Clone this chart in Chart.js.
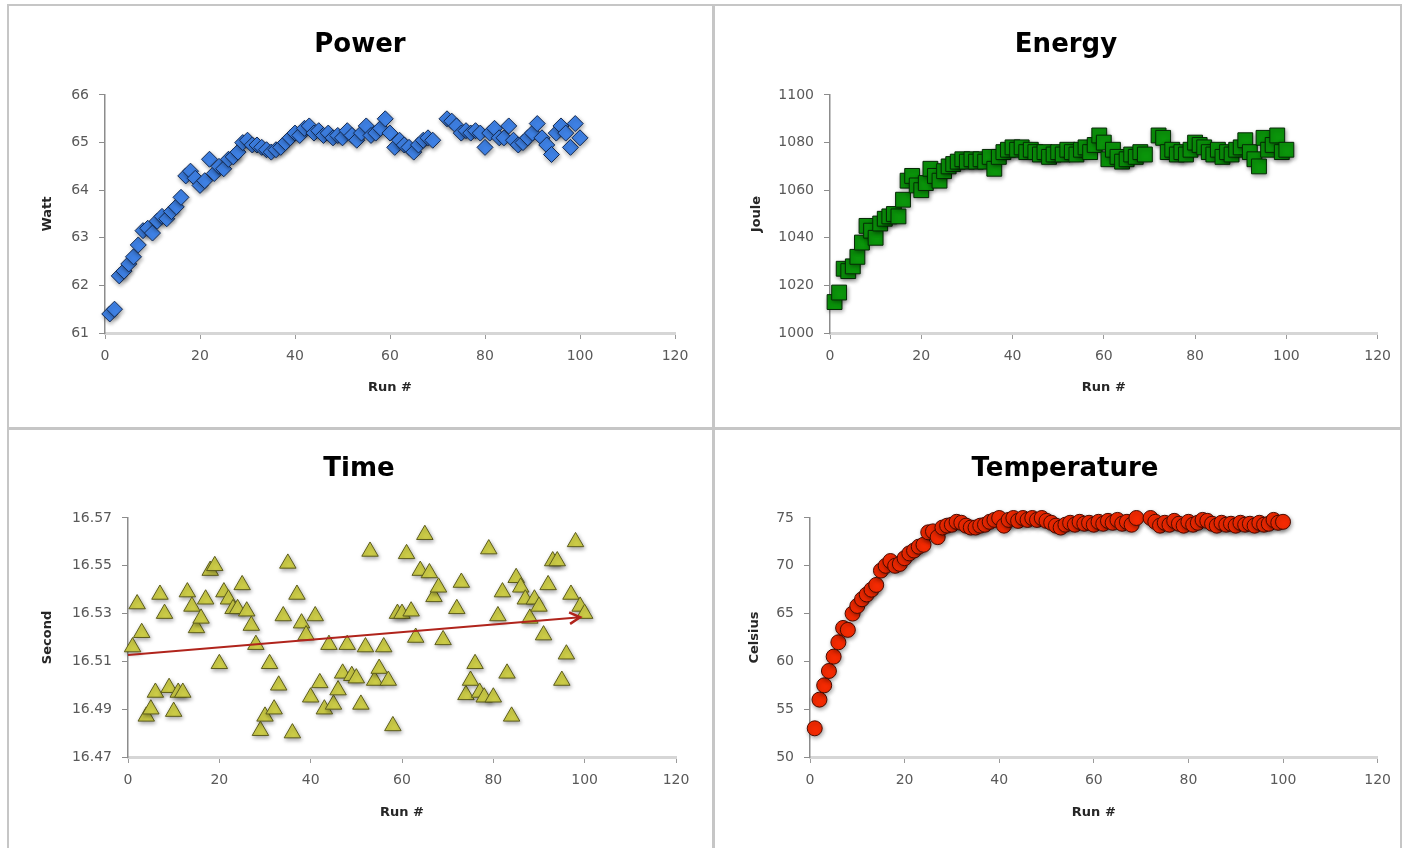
<!DOCTYPE html>
<html>
<head>
<meta charset="utf-8">
<script src="https://cdn.jsdelivr.net/npm/chart.js@4.4.1/dist/chart.umd.min.js"></script>
<style>
    body { margin: 0; background: #fff; }
    #sheet { position: relative; width: 1403px; height: 848px; overflow: hidden; background: #fff; }
    .panel { position: absolute; }
    .panel canvas { display: block; }
    .rule { position: absolute; background: #c6c6c6; }
</style>
</head>
<body>
<div id="sheet">
    <div class="panel" style="left:9px;top:6px"><canvas id="power-chart" width="703" height="421"></canvas></div>
    <div class="panel" style="left:715px;top:6px"><canvas id="energy-chart" width="685" height="421"></canvas></div>
    <div class="panel" style="left:9px;top:430px"><canvas id="time-chart" width="703" height="418"></canvas></div>
    <div class="panel" style="left:715px;top:430px"><canvas id="temp-chart" width="685" height="418"></canvas></div>

    <div class="rule" style="left:7px;top:4px;width:1395px;height:2px"></div>
    <div class="rule" style="left:7px;top:427px;width:1395px;height:3px"></div>
    <div class="rule" style="left:7px;top:4px;width:2px;height:844px"></div>
    <div class="rule" style="left:712px;top:4px;width:3px;height:844px"></div>
    <div class="rule" style="left:1400px;top:4px;width:2px;height:844px"></div>
</div>

<script>
//  Data

const runs = [
    1, 2, 3, 4, 5, 6, 7, 8, 9, 10, 11, 12, 13, 14, 15, 16, 17, 18, 19, 20,
    21, 22, 23, 24, 25, 26, 27, 28, 29, 30, 31, 32, 33, 34, 35, 36, 37, 38, 39, 40,
    41, 42, 43, 44, 45, 46, 47, 48, 49, 50, 51, 52, 53, 54, 55, 56, 57, 58, 59, 60,
    61, 62, 63, 64, 65, 66, 67, 68, 69,
    72, 73, 74, 75, 76, 77, 78, 79, 80, 81, 82, 83, 84, 85, 86, 87, 88, 89, 90,
    91, 92, 93, 94, 95, 96, 97, 98, 99, 100
]

const powerWatt = [
    61.4, 61.5, 62.2, 62.3, 62.45, 62.6, 62.85, 63.15, 63.2, 63.1,
    63.35, 63.45, 63.4, 63.55, 63.65, 63.85, 64.3, 64.4, 64.25, 64.1,
    64.2, 64.65, 64.35, 64.5, 64.45, 64.65, 64.7, 64.8, 65.0, 65.05,
    64.95, 64.95, 64.9, 64.85, 64.8, 64.85, 64.9, 65.0, 65.1, 65.2,
    65.15, 65.3, 65.35, 65.2, 65.25, 65.15, 65.2, 65.1, 65.15, 65.1,
    65.25, 65.15, 65.05, 65.2, 65.35, 65.15, 65.2, 65.3, 65.5, 65.2,
    64.9, 65.05, 64.95, 64.9, 64.8, 64.95, 65.05, 65.1, 65.05,
    65.5, 65.45, 65.35, 65.2, 65.25, 65.2, 65.25, 65.2, 64.9, 65.2,
    65.3, 65.1, 65.1, 65.35, 65.05, 64.95, 65.0, 65.1, 65.2, 65.4,
    65.1, 64.95, 64.75, 65.2, 65.35, 65.2, 64.9, 65.4, 65.1
]

const energyJoule = [
    1013, 1017, 1027, 1026, 1028, 1032, 1038, 1045, 1043, 1040,
    1046, 1048, 1049, 1050, 1049, 1056, 1064, 1066, 1062, 1060,
    1063, 1069, 1066, 1064, 1068, 1070, 1071, 1072, 1073, 1072,
    1073, 1072, 1073, 1072, 1074, 1069, 1074, 1076, 1077, 1078,
    1077, 1078, 1076, 1077, 1076, 1075, 1076, 1074, 1075, 1076,
    1075, 1077, 1076, 1075, 1077, 1078, 1076, 1079, 1083, 1080,
    1073, 1077, 1074, 1072, 1073, 1075, 1074, 1076, 1075,
    1083, 1082, 1076, 1077, 1075, 1076, 1075, 1077, 1080, 1079,
    1078, 1076, 1075, 1077, 1074, 1076, 1075, 1077, 1078, 1081,
    1076, 1073, 1070, 1082, 1077, 1079, 1083, 1076, 1077
]

const timeSecond = [
    16.516, 16.534, 16.522, 16.487, 16.490, 16.497, 16.538, 16.530, 16.499, 16.489,
    16.497, 16.497, 16.539, 16.533, 16.524, 16.528, 16.536, 16.548, 16.550, 16.509,
    16.539, 16.536, 16.532, 16.532, 16.542, 16.531, 16.525, 16.517, 16.481, 16.487,
    16.509, 16.490, 16.500, 16.529, 16.551, 16.480, 16.538, 16.526, 16.521, 16.495,
    16.529, 16.501, 16.490, 16.517, 16.492, 16.498, 16.505, 16.517, 16.504, 16.503,
    16.492, 16.516, 16.556, 16.502, 16.507, 16.516, 16.502, 16.483, 16.530, 16.530,
    16.555, 16.531, 16.520, 16.548, 16.563, 16.547, 16.537, 16.541, 16.519,
    16.532, 16.543, 16.496, 16.502, 16.509, 16.497, 16.495, 16.557, 16.495, 16.529,
    16.539, 16.505, 16.487, 16.545, 16.541, 16.536, 16.528, 16.536, 16.533, 16.521,
    16.542, 16.552, 16.552, 16.502, 16.513, 16.538, 16.560, 16.533, 16.530
]

const tempCelsius = [
    53, 56, 57.5, 59, 60.5, 62, 63.5, 63.3, 65, 65.8,
    66.5, 67, 67.5, 68, 69.5, 70, 70.5, 70, 70.2, 70.8,
    71.3, 71.6, 72, 72.2, 73.5, 73.6, 73, 74, 74.2, 74.3,
    74.6, 74.5, 74.2, 74, 74, 74.2, 74.3, 74.6, 74.8, 75,
    74.2, 74.8, 75, 74.7, 75, 74.8, 75, 74.8, 75, 74.7,
    74.5, 74.2, 74, 74.3, 74.5, 74.3, 74.6, 74.4, 74.5, 74.3,
    74.6, 74.4, 74.7, 74.5, 74.8, 74.4, 74.6, 74.3, 75,
    75, 74.6, 74.2, 74.5, 74.3, 74.7, 74.4, 74.2, 74.6, 74.3,
    74.5, 74.8, 74.7, 74.4, 74.2, 74.5, 74.3, 74.4, 74.2, 74.5,
    74.3, 74.4, 74.2, 74.5, 74.3, 74.4, 74.8, 74.5, 74.6
]

//  Axis ranges

const runAxis = { min: 0, max: 120, step: 20 }
const powerAxis = { min: 61, max: 66, step: 1, dec: 0 }
const energyAxis = { min: 1000, max: 1100, step: 20, dec: 0 }
const timeAxis = { min: 16.47, max: 16.57, step: 0.02, dec: 2 }
const tempAxis = { min: 50, max: 75, step: 5, dec: 0 }

// trendline is drawn over this run range
const trendRuns = [0, 99]


//  Look

Chart.defaults.font.family = '"DejaVu Sans", "Liberation Sans", sans-serif'

const TITLE_SIZE = 26
const AXIS_SIZE = 13
const tickFont = { size: 14 }
const tickColor = '#595959'
const trendColor = '#b0241c'

// where the plot area and titles sit inside each canvas
const geoPower = { left: 96, right: 666, top: 89, bottom: 327, titleX: 351, titleY: 39, yTitleX: 39, xTitleY: 382 }
const geoEnergy = { left: 115, right: 665, top: 89, bottom: 327, titleX: 351, titleY: 39, yTitleX: 42, xTitleY: 382 }
const geoTime = { left: 119, right: 667, top: 88, bottom: 327, titleX: 350, titleY: 39, yTitleX: 39, xTitleY: 383 }
const geoTemp = { left: 95, right: 665, top: 88, bottom: 327, titleX: 350, titleY: 39, yTitleX: 40, xTitleY: 383 }


//  Plugins

const markerShadow = {
    id: 'markerShadow',
    beforeDatasetDraw(chart, args) {
        const ds = chart.data.datasets[args.index]
        if (ds.showLine) return
        const ctx = chart.ctx
        ctx.save()
        ctx.shadowColor = 'rgba(0,0,0,0.35)'
        ctx.shadowBlur = 4
        ctx.shadowOffsetX = 1
        ctx.shadowOffsetY = 2
        chart.$shadowOn = true
    },
    afterDatasetDraw(chart) {
        if (chart.$shadowOn) {
            chart.ctx.restore()
            chart.$shadowOn = false
        }
    }
}

const trendArrow = {
    id: 'trendArrow',
    afterDatasetsDraw(chart) {
        const meta = chart.getDatasetMeta(1)
        if (!meta || meta.data.length < 2) return
        const a = meta.data[meta.data.length - 2]
        const b = meta.data[meta.data.length - 1]
        const ang = Math.atan2(b.y - a.y, b.x - a.x)
        const len = 12
        const ctx = chart.ctx
        ctx.save()
        ctx.strokeStyle = trendColor
        ctx.lineWidth = 2.5
        ctx.lineJoin = 'miter'
        ctx.beginPath()
        ctx.moveTo(b.x - len * Math.cos(ang - 0.5), b.y - len * Math.sin(ang - 0.5))
        ctx.lineTo(b.x, b.y)
        ctx.lineTo(b.x - len * Math.cos(ang + 0.5), b.y - len * Math.sin(ang + 0.5))
        ctx.stroke()
        ctx.restore()
    }
}


//  Chart builder

var makeChart = function(sel, opts){
    const canvas = document.querySelector(sel)
    const g = opts.geo
    const cw = canvas.width
    const ch = canvas.height
    const titleLH = TITLE_SIZE * 1.2
    const axisLH = AXIS_SIZE * 1.2
    const padL = 2 * g.titleX - g.right
    const padR = cw - g.right
    const titleTop = g.titleY - titleLH / 2

    const points = runs.map((r, i) => ({ x: r, y: opts.values[i] }))

    const datasets = [{
        data: points,
        pointStyle: opts.marker,
        pointRadius: opts.radius,
        pointHoverRadius: opts.radius,
        backgroundColor: opts.fill,
        borderColor: opts.stroke,
        borderWidth: 1,
        clip: false,
        order: 1
    }]
    if (opts.extra) datasets.push(opts.extra)

    const ax = opts.axis

    return new Chart(canvas, {
        type: 'scatter',
        data: { datasets: datasets },
        options: {
            responsive: false,
            animation: false,
            events: [],
            layout: { padding: { left: padL, right: padR, top: 0, bottom: 0 } },
            plugins: {
                legend: { display: false },
                tooltip: { enabled: false },
                title: {
                    display: true,
                    text: opts.title,
                    color: '#000',
                    font: { size: TITLE_SIZE, weight: 'bold', lineHeight: 1.2 },
                    padding: { top: titleTop, bottom: g.top - titleTop - titleLH }
                }
            },
            scales: {
                x: {
                    type: 'linear',
                    position: 'bottom',
                    min: runAxis.min,
                    max: runAxis.max,
                    ticks: { stepSize: runAxis.step, padding: 9, color: tickColor, font: tickFont, maxRotation: 0 },
                    grid: { drawOnChartArea: false, drawTicks: true, tickLength: 6, color: '#9a9a9a' },
                    border: { display: true, color: '#d6d6d6', width: 3 },
                    title: {
                        display: true, text: 'Run #', color: '#262626',
                        font: { size: AXIS_SIZE, weight: 'bold', lineHeight: 1.2 },
                        padding: { top: 0, bottom: ch - g.xTitleY - axisLH / 2 }
                    },
                    afterFit: (s) => { s.height = ch - g.bottom }
                },
                y: {
                    type: 'linear',
                    position: 'left',
                    min: ax.min,
                    max: ax.max,
                    ticks: {
                        stepSize: ax.step, padding: 10, color: tickColor, font: tickFont,
                        callback: (v) => Number(v).toFixed(ax.dec)
                    },
                    grid: { drawOnChartArea: false, drawTicks: true, tickLength: 6, color: '#8c8c8c' },
                    border: { display: true, color: '#8c8c8c', width: 1.5 },
                    title: {
                        display: true, text: opts.yTitle, color: '#262626',
                        font: { size: AXIS_SIZE, weight: 'bold', lineHeight: 1.2 },
                        padding: { top: g.yTitleX - padL - axisLH / 2, bottom: 0 }
                    },
                    afterFit: (s) => { s.width = g.left - padL }
                }
            }
        },
        plugins: opts.plugins || [markerShadow]
    })
}


//  Linear trendline for the time runs

var trendPoints = function(xs, ys){
    const n = xs.length
    let sx = 0, sy = 0, sxx = 0, sxy = 0
    for (let i = 0; i < n; i++) {
        sx += xs[i]; sy += ys[i]
        sxx += xs[i] * xs[i]; sxy += xs[i] * ys[i]
    }
    const slope = (n * sxy - sx * sy) / (n * sxx - sx * sx)
    const icpt = (sy - slope * sx) / n
    return trendRuns.map(x => ({ x: x, y: icpt + slope * x }))
}


//  Charts

const powerChart = makeChart('#power-chart', {
    geo: geoPower, title: 'Power', yTitle: 'Watt', values: powerWatt, axis: powerAxis,
    marker: 'rectRot', radius: 8, fill: '#3f82e6', stroke: '#132a52'
})

const energyChart = makeChart('#energy-chart', {
    geo: geoEnergy, title: 'Energy', yTitle: 'Joule', values: energyJoule, axis: energyAxis,
    marker: 'rect', radius: 10.5, fill: '#0b950b', stroke: '#062a06'
})

const timeChart = makeChart('#time-chart', {
    geo: geoTime, title: 'Time', yTitle: 'Second', values: timeSecond, axis: timeAxis,
    marker: 'triangle', radius: 9.5, fill: '#cfcf48', stroke: '#5c5c1c',
    extra: {
        data: trendPoints(runs, timeSecond),
        showLine: true,
        pointRadius: 0,
        borderColor: trendColor,
        borderWidth: 2,
        clip: false,
        order: 0
    },
    plugins: [markerShadow, trendArrow]
})

const tempChart = makeChart('#temp-chart', {
    geo: geoTemp, title: 'Temperature', yTitle: 'Celsius', values: tempCelsius, axis: tempAxis,
    marker: 'circle', radius: 7.5, fill: '#f42a02', stroke: '#4a0c00'
})
</script>
</body>
</html>
